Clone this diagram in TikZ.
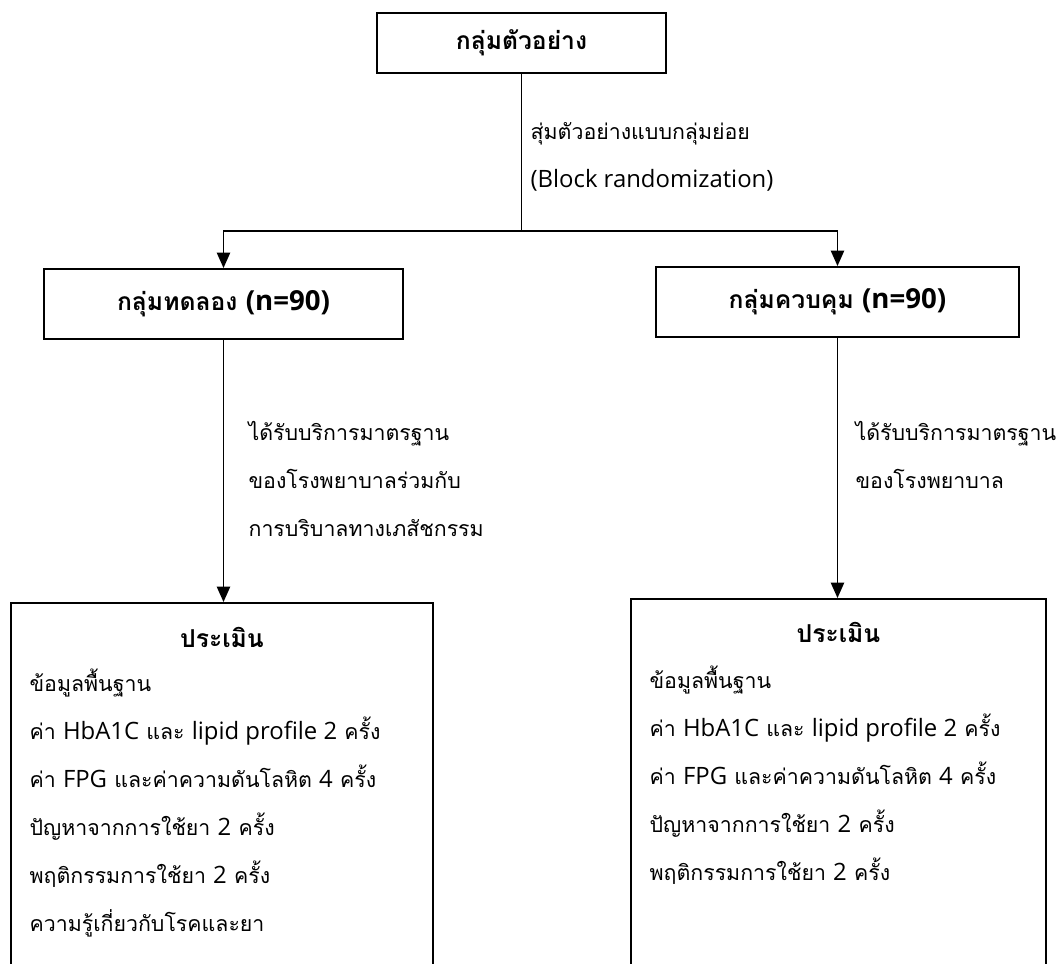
\documentclass[tikz,border=0pt]{standalone}
\usepackage{fontspec}
\setmainfont[Script=Thai]{Loma}
\newfontfamily\latinfont[Scale=1.12]{Open Sans}
\newcommand{\en}[1]{{\latinfont #1}}
\usepackage{tikz}
\usetikzlibrary{positioning}
\usetikzlibrary{arrows.meta}
\tikzset{box node/.style={rectangle,draw,line width=1.5pt,inner sep=0pt},
  label text/.style={align=left,inner sep=0pt,font=\fontsize{16}{36}\selectfont},
  title text/.style={inner sep=0pt,font=\fontsize{18.5}{36}\selectfont\bfseries},}

\begin{document}
\begin{tikzpicture}[x=0.75pt, y=-0.75pt, >={Triangle[length=11.5pt,width=10pt]}, line width=0.9pt]
	\useasboundingbox (0,0) rectangle (1058,964);
	\clip (0,0) rectangle (1058,964);
	% boxes
	\node[box node, title text, minimum width=216.75pt, minimum height=45pt] (sample) at (521.5,43) {กลุ่มตัวอย่าง};
	\node[box node, title text, minimum width=269.25pt, minimum height=52.5pt] (trial) at (223.5,304) {กลุ่มทดลอง \en{(n=90)}};
	\node[box node, title text, minimum width=272.25pt, minimum height=52.5pt] (control) at (837.5,302) {กลุ่มควบคุม \en{(n=90)}};
	\node[box node, minimum width=316.5pt, minimum height=337.5pt, anchor=north] (evalA) at (222,602) {};
	\node[box node, minimum width=311.25pt, minimum height=337.5pt, anchor=north] (evalB) at (838.5,598) {};
	\node[title text] (headA) at ([yshift=-26.25pt]evalA.north) {ประเมิน};
	\node[title text] (headB) at ([yshift=-25.5pt]evalB.north) {ประเมิน};
	\node[label text, anchor=west] (listA) at ([xshift=14.25pt,yshift=-151.1pt]evalA.north west)
	  {ข้อมูลพื้นฐาน\\ค่า \en{HbA1C} และ \en{lipid profile 2} ครั้ง\\ค่า \en{FPG} และค่าความดันโลหิต \en{4} ครั้ง\\ปัญหาจากการใช้ยา \en{2} ครั้ง\\พฤติกรรมการใช้ยา \en{2} ครั้ง\\ความรู้เกี่ยวกับโรคและยา};
	\node[label text, anchor=west] (listB) at ([xshift=14.25pt,yshift=-132.75pt]evalB.north west)
	  {ข้อมูลพื้นฐาน\\ค่า \en{HbA1C} และ \en{lipid profile 2} ครั้ง\\ค่า \en{FPG} และค่าความดันโลหิต \en{4} ครั้ง\\ปัญหาจากการใช้ยา \en{2} ครั้ง\\พฤติกรรมการใช้ยา \en{2} ครั้ง};
	% labels
	\node[label text, anchor=west] (randText) at (530,157) {สุ่มตัวอย่างแบบกลุ่มย่อย\\\en{(Block randomization)}};
	\node[label text, anchor=west] (serviceA) at (248,479) {ได้รับบริการมาตรฐาน\\ของโรงพยาบาลร่วมกับ\\การบริบาลทางเภสัชกรรม};
	\node[label text, anchor=west] (serviceB) at (855,455) {ได้รับบริการมาตรฐาน\\ของโรงพยาบาล};
	% connectors
	\coordinate (split) at (521.5,231);
	\draw (sample.south) -- (split);
	\draw[->] (split) -| (trial.north);
	\draw[->] (split) -| (control.north);
	\draw[->] (trial.south) -- (trial.south |- evalA.north);
	\draw[->] (control.south) -- (control.south |- evalB.north);
\end{tikzpicture}
\end{document}
